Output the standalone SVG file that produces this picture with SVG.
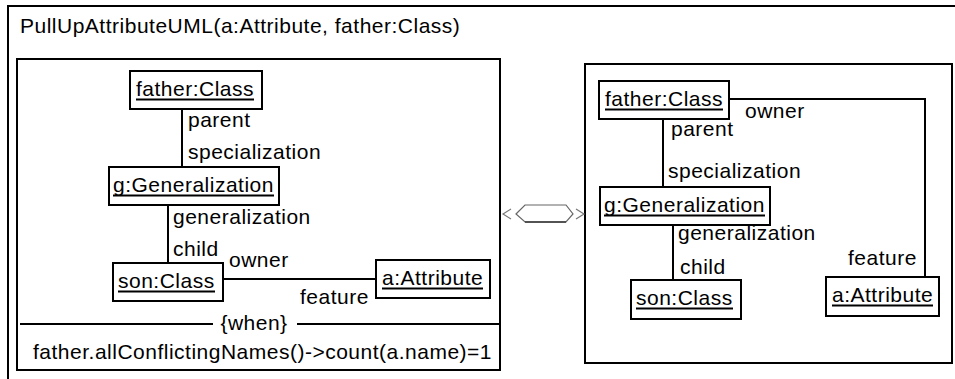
<svg xmlns="http://www.w3.org/2000/svg" width="955" height="379" viewBox="0 0 955 379">
  <style>
    text { font-family: "Liberation Sans", Arial, sans-serif; font-size: 21px; letter-spacing: 0.5px; fill: #000; }
    .box { fill: #fff; stroke: #000; stroke-width: 2; }
    .frame { fill: none; stroke: #000; stroke-width: 2; }
    .ul { stroke: #000; stroke-width: 2; }
    .link { fill: none; stroke: #000; stroke-width: 2; }
  </style>

  <rect width="955" height="379" fill="#fff"/>

  <!-- outer rule frame, clipped at right and bottom -->
  <g id="rule">
    <path class="frame" d="M8,379 V6 H955"/>
    <text x="20" y="33">PullUpAttributeUML(a:Attribute, father:Class)</text>
  </g>

  <!-- left-hand side frame with condition compartment -->
  <g id="lhs">
    <rect class="frame" x="17" y="59" width="483" height="311"/>
    <line class="frame" x1="20" y1="324" x2="213" y2="324"/>
    <line class="frame" x1="297" y1="324" x2="500" y2="324"/>
    <text x="254" y="330" text-anchor="middle">{when}</text>
    <text x="33" y="359">father.allConflictingNames()-&gt;count(a.name)=1</text>
  </g>

  <!-- right-hand side frame -->
  <g id="rhs">
    <rect class="frame" x="585" y="64" width="367" height="299"/>
  </g>

  <!-- transformation symbol between the two sides -->
  <g id="transform" fill="none" stroke-width="1.2">
    <polyline points="511,209 503,214 511,219" stroke="#777"/>
    <polygon points="516,214 525,205 566,205 573,214 566,222 525,222" stroke="#666"/>
    <line x1="525" y1="222" x2="566" y2="222" stroke="#333" stroke-width="1.6"/>
    <polyline points="576,209 584,214 576,219" stroke="#777"/>
  </g>

  <!-- connectors -->
  <g id="connectors">
    <!-- left side -->
    <line class="link" x1="182" y1="109" x2="182" y2="167"/>
    <line class="link" x1="168" y1="205" x2="168" y2="263"/>
    <line class="link" x1="223" y1="279" x2="376" y2="279"/>
    <text x="188" y="127">parent</text>
    <text x="188" y="159">specialization</text>
    <text x="173" y="224">generalization</text>
    <text x="173" y="256">child</text>
    <text x="229" y="267">owner</text>
    <text x="300" y="304">feature</text>
    <!-- right side -->
    <line class="link" x1="663" y1="119" x2="663" y2="187"/>
    <line class="link" x1="673" y1="225" x2="673" y2="280"/>
    <polyline class="link" points="729,99 925,99 925,277"/>
    <text x="745" y="118">owner</text>
    <text x="671" y="136">parent</text>
    <text x="668" y="178">specialization</text>
    <text x="678" y="240">generalization</text>
    <text x="680" y="274">child</text>
    <text x="848" y="265">feature</text>
  </g>

  <!-- left side objects -->
  <g id="lhs-father">
    <rect class="box" x="130" y="71" width="132" height="38"/>
    <text x="136" y="96">father:Class</text>
    <line class="ul" x1="136" y1="99.5" x2="254" y2="99.5"/>
  </g>
  <g id="lhs-g">
    <rect class="box" x="109" y="167" width="170" height="38"/>
    <text x="113" y="192">g:Generalization</text>
    <line class="ul" x1="113" y1="195.5" x2="274" y2="195.5"/>
  </g>
  <g id="lhs-son">
    <rect class="box" x="113" y="263" width="110" height="38"/>
    <text x="118" y="288">son:Class</text>
    <line class="ul" x1="118" y1="291.5" x2="215" y2="291.5"/>
  </g>
  <g id="lhs-a">
    <rect class="box" x="376" y="260" width="114" height="38"/>
    <text x="382" y="285">a:Attribute</text>
    <line class="ul" x1="382" y1="288.5" x2="483" y2="288.5"/>
  </g>

  <!-- right side objects -->
  <g id="rhs-father">
    <rect class="box" x="599" y="81" width="130" height="38"/>
    <text x="605" y="106">father:Class</text>
    <line class="ul" x1="605" y1="109.5" x2="723" y2="109.5"/>
  </g>
  <g id="rhs-g">
    <rect class="box" x="600" y="187" width="170" height="38"/>
    <text x="604" y="212">g:Generalization</text>
    <line class="ul" x1="604" y1="215.5" x2="765" y2="215.5"/>
  </g>
  <g id="rhs-son">
    <rect class="box" x="631" y="280" width="110" height="39"/>
    <text x="636" y="305">son:Class</text>
    <line class="ul" x1="636" y1="308.5" x2="733" y2="308.5"/>
  </g>
  <g id="rhs-a">
    <rect class="box" x="826" y="277" width="113" height="39"/>
    <text x="832" y="302">a:Attribute</text>
    <line class="ul" x1="832" y1="305.5" x2="933" y2="305.5"/>
  </g>
</svg>
